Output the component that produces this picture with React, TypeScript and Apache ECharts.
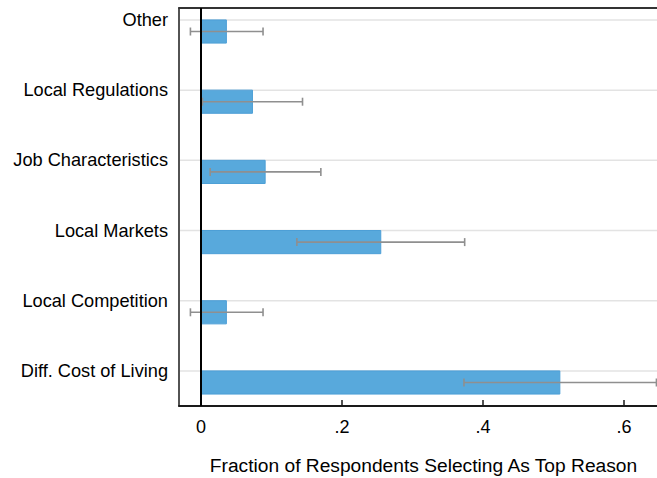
import React, { useEffect, useRef } from "react";
import * as echarts from "echarts";

// Top-to-bottom as shown
const categories = [
  "Other",
  "Local Regulations",
  "Job Characteristics",
  "Local Markets",
  "Local Competition",
  "Diff. Cost of Living",
];
const shares = [0.036, 0.073, 0.091, 0.255, 0.036, 0.509];
const ciLow = [-0.015, 0.002, 0.013, 0.136, -0.015, 0.373];
const ciHigh = [0.088, 0.144, 0.17, 0.374, 0.088, 0.646];
const xTicks = [0, 0.2, 0.4, 0.6];

export default function App() {
  const ref = useRef<HTMLDivElement>(null);
  useEffect(() => {
    if (!ref.current) return;
    const chart = echarts.init(ref.current, null, { renderer: "svg" });
    const n = categories.length;
    const data = categories.map((c, i) => [shares[i], ciLow[i], ciHigh[i], n - i]);
    const font = "Liberation Sans, Arial, Helvetica, sans-serif";
    chart.setOption({
      animation: false,
      backgroundColor: "#ffffff",
      grid: { left: 179, right: 0, top: 8, bottom: 72, containLabel: false, outerBoundsMode: "none" },
      xAxis: [
        {
          type: "value",
          min: -0.0312,
          max: 0.6468,
          name: "Fraction of Respondents Selecting As Top Reason",
          nameLocation: "middle",
          nameGap: 50,
          nameTextStyle: { fontFamily: font, fontSize: 19.2, color: "#000", padding: [0, 0, 0, 11] },
          axisLine: { show: true, lineStyle: { color: "#1a1a1a", width: 2 } },
          axisTick: {
            show: true,
            inside: true,
            length: 6,
            customValues: xTicks,
            lineStyle: { color: "#1a1a1a", width: 1.5 },
          },
          axisLabel: {
            customValues: xTicks,
            margin: 12,
            fontFamily: font,
            fontSize: 18,
            color: "#000",
            formatter: (v: number) => (v === 0 ? "0" : String(v).replace(/^0\./, ".")),
          },
          splitLine: { show: false },
        },
        {
          type: "value",
          position: "top",
          min: -0.0312,
          max: 0.6468,
          axisLine: { show: true, onZero: false, lineStyle: { color: "#333", width: 2 } },
          axisTick: { show: false },
          axisLabel: { show: false },
          splitLine: { show: false },
        },
      ],
      yAxis: {
        type: "value",
        min: 0.5,
        max: 6.17,
        axisLine: { show: true, onZero: false, lineStyle: { color: "#1a1a1a", width: 1.5 } },
        axisTick: { show: false },
        splitLine: { show: false },
        axisLabel: {
          customValues: [1, 2, 3, 4, 5, 6],
          margin: 11,
          fontFamily: font,
          fontSize: 18.2,
          color: "#000",
          formatter: (v: number) => categories[n - Math.round(v)] ?? "",
        },
      },
      series: [
        {
          type: "custom",
          xAxisIndex: 0,
          clip: false,
          data,
          encode: { x: [0, 1, 2], y: 3 },
          renderItem: (params: any, api: any) => {
            const cs = params.coordSys;
            const v = api.value(0);
            const lo = api.value(1);
            const hi = api.value(2);
            const k = api.value(3);
            const p0 = api.coord([0, k]);
            const p1 = api.coord([v, k - 0.33]);
            const ey = api.coord([0, k - 0.165])[1];
            const xl = api.coord([lo, k])[0];
            const xh = api.coord([hi, k])[0];
            const cap = 4;
            return {
              type: "group",
              children: [
                {
                  type: "line",
                  shape: { x1: cs.x + 1, y1: p0[1], x2: cs.x + cs.width, y2: p0[1] },
                  style: { stroke: "#e3e3e3", lineWidth: 1.5 },
                },
                {
                  type: "rect",
                  shape: { x: p0[0], y: p0[1], width: p1[0] - p0[0], height: p1[1] - p0[1] },
                  style: { fill: "#58a9dc", stroke: "#4d9fd6", lineWidth: 1 },
                },
                {
                  type: "line",
                  shape: { x1: xl, y1: ey, x2: xh, y2: ey },
                  style: { stroke: "#8f8f8f", lineWidth: 1.6 },
                },
                {
                  type: "line",
                  shape: { x1: xl, y1: ey - cap, x2: xl, y2: ey + cap },
                  style: { stroke: "#8f8f8f", lineWidth: 1.6 },
                },
                {
                  type: "line",
                  shape: { x1: xh, y1: ey - cap, x2: xh, y2: ey + cap },
                  style: { stroke: "#8f8f8f", lineWidth: 1.6 },
                },
              ],
            };
          },
          markLine: {
            silent: true,
            symbol: "none",
            label: { show: false },
            lineStyle: { color: "#000", width: 2, type: "solid" },
            data: [{ xAxis: 0 }],
          },
        },
      ],
    });
    return () => chart.dispose();
  }, []);
  return (
    <div
      ref={ref}
      style={{ position: "absolute", left: 0, top: 0, width: 657, height: 478 }}
    />
  );
}
